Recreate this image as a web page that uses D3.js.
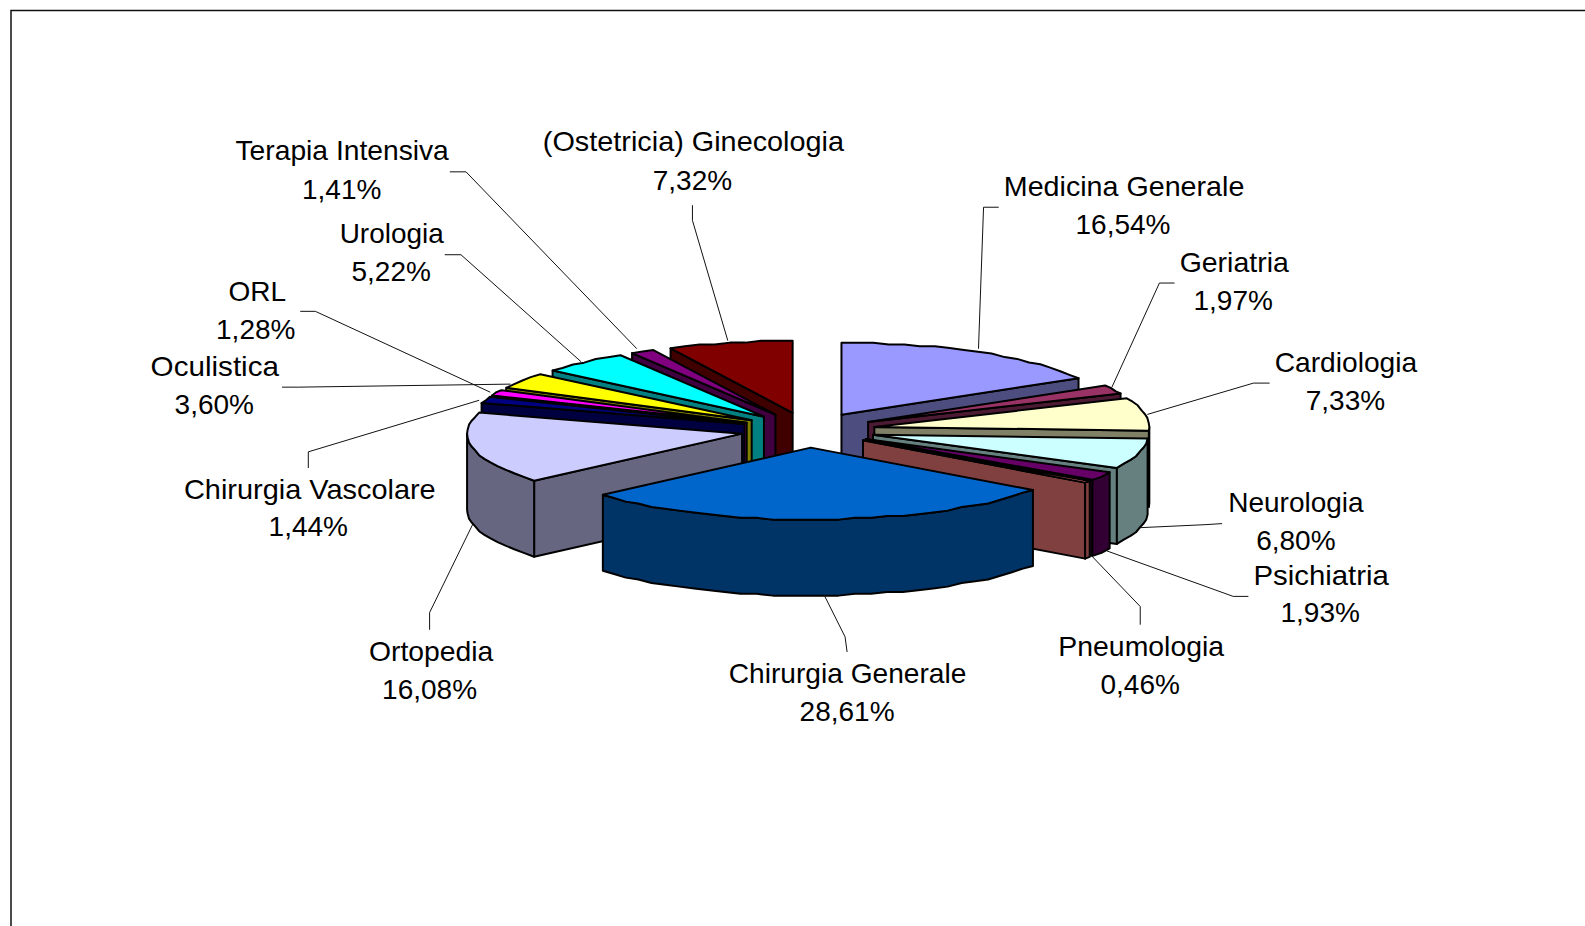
<!DOCTYPE html>
<html><head><meta charset="utf-8">
<style>html,body{margin:0;padding:0;background:#fff;overflow:hidden}svg{display:block}text{font-family:"Liberation Sans",Arial,sans-serif;font-size:28px;fill:#000}</style>
<script src="https://cdn.jsdelivr.net/npm/d3@7/dist/d3.min.js"></script>
</head><body><svg id="c" width="1585" height="926"></svg>
<script>
const categories = ["Medicina Generale","Geriatria","Cardiologia","Neurologia","Psichiatria","Pneumologia","Chirurgia Generale","Ortopedia","Chirurgia Vascolare","ORL","Oculistica","Urologia","Terapia Intensiva","(Ostetricia) Ginecologia"];
const values = [16.54,1.97,7.33,6.80,1.93,0.46,28.61,16.08,1.44,1.28,3.60,5.22,1.41,7.32];
const valueLabels = ["16,54%","1,97%","7,33%","6,80%","1,93%","0,46%","28,61%","16,08%","1,44%","1,28%","3,60%","5,22%","1,41%","7,32%"];
const palette = ["#9999FF","#993366","#FFFFCC","#CCFFFF","#660066","#FF8080","#0066CC","#CCCCFF","#000080","#FF00FF","#FFFF00","#00FFFF","#800080","#800000"];
// label layout: [name left, name right, value centre, y line 1, y line 2]; leader polylines
const k = 1585/1568;
const labelAt = [[993,1231,1111,184,222],[1167,1275,1220,259,297],[1261,1402,1331,358,396],[1215,1349,1282,497,534],[1240,1374,1306,569,606],[1047,1211,1128,639,677],[721,956,838,666,704],[365,488,425,644,682],[182,431,305,484,521],[226,283,253,288,326],[149,276,212,362,400],[336,439,387,231,268],[233,444,338,149,187],[537,835,685,140,178]];
const leaders = [
 [[988,205],[973,205],[968,345]],
 [[1162,280],[1147,280],[1100,383]],
 [[1256,379],[1240,379],[1135,410]],
 [[1209,518],[1193,519],[1128,522]],
 [[1235,590],[1220,590],[1095,545]],
 [[1128,618],[1128,600],[1080,550]],
 [[838,645],[836,630],[815,588]],
 [[425,623],[425,606],[468,518]],
 [[305,463],[305,447],[474,396]],
 [[297,308],[312,308],[485,388]],
 [[279,383],[295,383],[505,380]],
 [[440,252],[456,252],[575,358]],
 [[445,170],[461,170],[630,345]],
 [[685,203],[685,218],[720,337]]
];
const cx=808, cy=430, rx=275, ry=72, depth=76, explode=0.245, stepRad=3.5*Math.PI/180, grid=1.8;
const svg=d3.select("#c");
const color=d3.scaleOrdinal(categories,palette);
const shade=c=>{const r=d3.rgb(c);return d3.rgb(r.r*.5,r.g*.5,r.b*.5).formatHex();};
svg.append("path").attr("d","M1600 10.5H11V940").attr("fill","none").attr("stroke","#111").attr("stroke-width",1.5);
const arcs=d3.pie().value(d=>d.v).sort(null)(categories.map((c,i)=>({c,v:values[i],i})));
const line=d3.line();
const ptOn=(a,o,dz)=>[o[0]+rx*Math.sin(a),o[1]-ry*Math.cos(a)+dz];
const rough=(a,o,dz)=>[o[0]+rx*Math.sin(a),o[1]-Math.round(ry*Math.cos(a)/grid)*grid+dz];
function arcPts(a0,a1,o,dz){
 const n=Math.max(1,Math.ceil((a1-a0)/stepRad));
 return d3.range(n+1).map(j=>{const a=a0+(a1-a0)*j/n;return (j==0||j==n)?ptOn(a,o,dz):rough(a,o,dz);});
}
const order=arcs.slice().sort((p,q)=>{const m=d=>(d.startAngle+d.endAngle)/2;return -Math.cos(m(p))+Math.cos(m(q));});
const g=svg.append("g").attr("stroke","#000").attr("stroke-width",2).attr("stroke-linejoin","round");
order.forEach(d=>{
 const a0=d.startAngle,a1=d.endAngle,m=(a0+a1)/2;
 const o=[cx+explode*rx*Math.sin(m),cy-explode*ry*Math.cos(m)];
 const col=color(d.data.c),side=shade(col);
 const wall=(a)=>[[o[0],o[1]],ptOn(a,o,0),ptOn(a,o,depth),[o[0],o[1]+depth]];
 if(a0>Math.PI) g.append("path").attr("d",line(wall(a0))+"Z").attr("fill",side);
 if(a1<Math.PI) g.append("path").attr("d",line(wall(a1))+"Z").attr("fill",side);
 const l=Math.max(a0,Math.PI/2),h=Math.min(a1,3*Math.PI/2);
 if(h>l){const t=arcPts(l,h,o,0),b=arcPts(l,h,o,depth).reverse();g.append("path").attr("d",line(t.concat(b))+"Z").attr("fill",side);}
 g.append("path").attr("d",line([[o[0],o[1]]].concat(arcPts(a0,a1,o,0)))+"Z").attr("fill",col);
});
const L=svg.append("g");
leaders.forEach(p=>L.append("path").attr("d",line(p.map(q=>[q[0]*k,q[1]*k]))).attr("fill","none").attr("stroke","#111").attr("stroke-width",1));
categories.forEach((c,i)=>{
 const a=labelAt[i];
 L.append("text").attr("x",a[0]*k).attr("y",a[3]*k).attr("dy","0.35em").attr("textLength",(a[1]-a[0])*k).attr("lengthAdjust","spacingAndGlyphs").text(c);
 L.append("text").attr("x",a[2]*k).attr("y",a[4]*k).attr("dy","0.35em").attr("text-anchor","middle").text(valueLabels[i]);
});
</script></body></html>
